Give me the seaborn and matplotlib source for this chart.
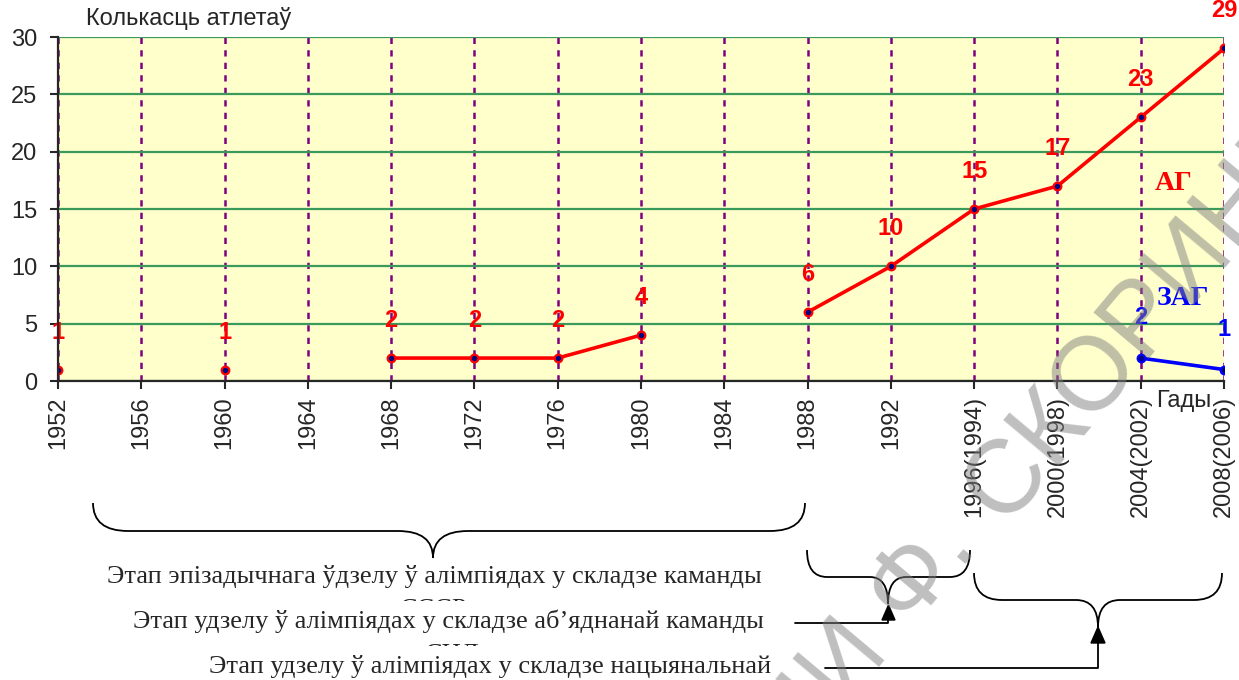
import numpy as np
import pandas as pd
import seaborn as sns
import matplotlib.pyplot as plt
from matplotlib.path import Path
from matplotlib.patches import PathPatch, Polygon

years = ['1952', '1956', '1960', '1964', '1968', '1972', '1976', '1980', '1984',
         '1988', '1992', '1996(1994)', '2000(1998)', '2004(2002)', '2008(2006)']
ag = [1, np.nan, 1, np.nan, 2, 2, 2, 4, np.nan, 6, 10, 15, 17, 23, 29]
zag = [np.nan, np.nan, np.nan, np.nan, np.nan, np.nan, np.nan, np.nan, np.nan,
       np.nan, np.nan, np.nan, np.nan, 2, 1]

stage_texts = ['Этап эпізадычнага ўдзелу ў алімпіядах у складзе каманды',
               'Этап удзелу ў алімпіядах у складзе аб’яднанай каманды',
               'Этап удзелу ў алімпіядах у складзе нацыянальнай']
stage_tails = ['СССР', 'СНД']

sns.set_style('ticks')
plt.rcParams['font.family'] = ['Liberation Sans', 'DejaVu Sans']

df = pd.DataFrame({'pos': np.arange(len(years)), 'ag': ag, 'zag': zag})
df['seg_ag'] = df['ag'].isna().cumsum()
df['seg_zag'] = df['zag'].isna().cumsum()
d_ag = df.dropna(subset=['ag'])
d_zag = df.dropna(subset=['zag'])

fig = plt.figure(figsize=(12.39, 6.8), dpi=100)
ax = fig.add_axes([58 / 1239, 1 - 381 / 680, (1224 - 58) / 1239, (381 - 37) / 680])
ax.set_facecolor('#ffffcc')

mk = dict(marker='o', ms=5.5, mfc='#000080', mew=1.6)
sns.lineplot(data=d_ag, x='pos', y='ag', units='seg_ag', estimator=None, color='red',
             lw=2.6, mec='red', ax=ax, legend=False, zorder=4, **mk)
sns.lineplot(data=d_zag, x='pos', y='zag', units='seg_zag', estimator=None, color='blue',
             lw=2.6, mec='blue', ax=ax, legend=False, zorder=4, **mk)

for _, r in d_ag.iterrows():
    ax.annotate(f"{int(r['ag'])}", (r['pos'], r['ag']), xytext=(0, 27),
                textcoords='offset points', ha='center', va='center',
                color='red', fontsize=17, fontweight='bold', annotation_clip=False)
for _, r in d_zag.iterrows():
    ax.annotate(f"{int(r['zag'])}", (r['pos'], r['zag']), xytext=(0, 29),
                textcoords='offset points', ha='center', va='center',
                color='blue', fontsize=17, fontweight='bold', annotation_clip=False)

ax.set_xlim(0, len(years) - 1)
ax.set_ylim(0, 30)
ax.set_xticks(df['pos'])
ax.set_xticklabels(years, rotation=90, fontsize=17)
ax.set_yticks(range(0, 31, 5))
ax.tick_params(axis='y', labelsize=17, length=6, width=1.5, pad=9)
ax.tick_params(axis='x', length=6, width=1.5, pad=5)
ax.set_xlabel('')
ax.set_ylabel('')
ax.xaxis.grid(True, color='#800080', lw=1.8, ls=(0, (2.5, 2.5)))
ax.yaxis.grid(True, color='#3a9a5c', lw=1.6)
ax.set_axisbelow(True)
sns.despine(ax=ax)
for s in ['left', 'bottom']:
    ax.spines[s].set_linewidth(1.6)
    ax.spines[s].set_zorder(5)

ax.text(13.4, 17.2, 'АГ', color='red', fontsize=20, fontweight='bold',
        family='Liberation Serif', ha='center', va='center')
ax.text(13.5, 7.2, 'ЗАГ', color='blue', fontsize=20, fontweight='bold',
        family='Liberation Serif', ha='center', va='center')

# overlay in pixel coords for labels, braces and watermark
ov = fig.add_axes([0, 0, 1, 1], zorder=5)
ov.set_xlim(0, 1239)
ov.set_ylim(680, 0)
ov.axis('off')
ov.patch.set_alpha(0)

ov.text(86, 19, 'Колькасць атлетаў', fontsize=17, ha='left', va='center')
ov.text(1156, 401, 'Гады', fontsize=17, ha='left', va='center')


def brace(x0, x1, xc, ytop, ymid, ytip, r, rc):
    verts = [(x0, ytop), (x0, ymid), (x0 + r, ymid), (xc - rc, ymid),
             (xc, ymid), (xc, ytip), (xc, ymid), (xc + rc, ymid),
             (x1 - r, ymid), (x1, ymid), (x1, ytop)]
    codes = [Path.MOVETO, Path.CURVE3, Path.CURVE3, Path.LINETO,
             Path.CURVE3, Path.CURVE3, Path.CURVE3, Path.CURVE3,
             Path.LINETO, Path.CURVE3, Path.CURVE3]
    ov.add_patch(PathPatch(Path(verts, codes), fc='none', ec='black', lw=1.3))


brace(93, 805, 433, 503, 531, 558, 35, 35)
brace(807, 970, 888, 550, 577, 604, 20, 18)
brace(974, 1222, 1098, 573, 600, 627, 28, 22)

ov.plot([795, 888, 888], [623, 623, 610], color='black', lw=1.3)
ov.add_patch(Polygon([(882, 620), (895, 620), (888.5, 605)], color='black'))
ov.plot([825, 1098, 1098], [668, 668, 640], color='black', lw=1.3)
ov.add_patch(Polygon([(1091, 643), (1105, 643), (1098, 627)], color='black'))

serif = dict(family='Liberation Serif', fontsize=19, ha='center', va='center')
ov.text(434, 577, stage_texts[0], zorder=1, **serif)
ov.text(434, 610, stage_tails[0], zorder=1, **serif)
ov.text(448, 621, stage_texts[1], zorder=2,
        bbox=dict(fc='white', ec='none', pad=6), **serif)
ov.text(452, 655, stage_tails[1], zorder=2, **serif)
ov.text(490, 666, stage_texts[2], zorder=3,
        bbox=dict(fc='white', ec='none', pad=6), **serif)

# watermark
wm = dict(fontsize=75, color='#808080', alpha=0.5, rotation=50,
          rotation_mode='anchor', va='baseline', zorder=10, family='Liberation Sans')
ov.text(1004, 525, 'СКОРИНЫ', ha='left', **wm)
ov.text(978, 548, 'ИМЕНИ Ф.', ha='right', **wm)

fig.savefig('out.png', dpi=100)
